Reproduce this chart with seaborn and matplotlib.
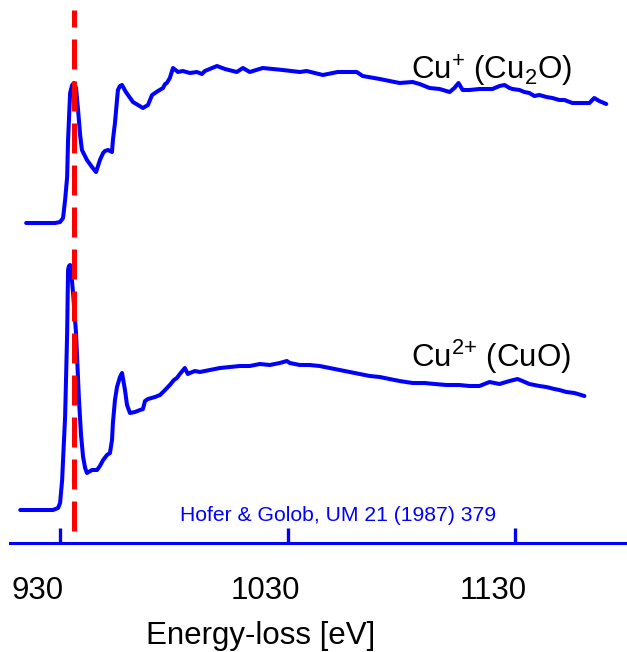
import matplotlib
matplotlib.use("Agg")
import matplotlib.pyplot as plt
import matplotlib.transforms as mtransforms
import seaborn as sns
import pandas as pd

# ---- data (energy-loss in eV, intensity in arbitrary offset units) ----
cu1_energy = [915.1, 921.2, 927.8, 930.0, 931.3, 932.2, 933.1, 933.5, 934.4, 935.3, 936.1, 937.0, 937.9,
              938.8, 939.6, 941.8, 944.0, 945.8, 947.5, 948.9, 949.7, 951.1, 952.8, 953.2, 954.1, 955.0,
              955.4, 956.3, 957.2, 958.9, 962.0, 964.2, 966.4, 968.6, 969.5, 970.4, 973.0, 975.2, 976.1,
              976.9, 978.2, 979.6, 981.8, 983.9, 987.0, 990.1, 992.3, 993.6, 998.9, 1002.4, 1007.6,
              1010.3, 1013.3, 1019.0, 1027.8, 1035.3, 1038.3, 1045.4, 1051.9, 1060.3, 1062.9, 1070.4,
              1079.1, 1084.8, 1087.9,
              1092.3, 1096.7, 1101.1, 1103.2, 1105.0, 1106.8, 1109.8, 1114.2, 1119.9, 1123.0, 1125.2,
              1127.4, 1128.7, 1131.8, 1133.9, 1136.1, 1138.3, 1140.5, 1143.6, 1146.2, 1149.3, 1151.5,
              1155.0, 1158.1, 1162.5, 1164.6, 1166.8, 1169.9]
cu1_intensity = [320, 320, 320, 321, 325, 343, 366, 403, 450, 458, 460, 455, 433,
                 408, 393, 383, 376, 371, 383, 390, 392, 393, 391, 403, 420, 443,
                 453, 457, 458, 451, 441, 438, 435, 438, 443, 448, 452, 455, 459,
                 460, 465, 475, 471, 472, 470, 471, 469, 472, 477, 474, 471,
                 475, 471, 475, 473, 471, 472, 468, 471, 471, 467, 464,
                 460, 461, 459,
                 455, 454, 451, 455, 460, 453, 453, 454, 454, 457, 458,
                 455, 454, 453, 451, 450, 447, 448, 446, 445, 443, 443,
                 440, 440, 440, 445, 442, 439]

cu2_energy = [912.5, 921.2, 926.9, 929.1, 930.0, 930.9, 931.3, 932.2, 932.6, 933.1, 933.5, 933.9, 934.4,
              934.8, 935.7, 937.0, 938.3, 939.2, 940.1, 941.0, 941.8, 944.0, 946.2, 947.5, 948.9, 950.6,
              951.9, 952.8, 953.2, 954.1, 955.0, 956.3, 957.2, 958.5, 959.4, 960.7, 962.9, 965.1, 966.4,
              967.3, 968.6, 971.7, 973.9, 976.1, 978.2, 980.0, 981.3, 982.6, 984.8, 986.1, 987.0, 989.2,
              991.4, 995.8, 1000.2, 1004.6, 1008.9, 1013.3, 1017.7, 1022.1, 1026.5, 1029.6, 1030.9,
              1035.3, 1039.6, 1044.0, 1048.4, 1052.8, 1057.2, 1061.6, 1066.0, 1070.4, 1074.7, 1079.1,
              1084.8, 1090.1, 1094.5, 1099.7, 1105.4, 1109.8, 1114.2, 1118.6, 1123.0, 1127.4, 1130.9,
              1133.1, 1136.1, 1140.5, 1143.6, 1147.1, 1149.3, 1152.4, 1155.9, 1160.3]
cu2_intensity = [33, 33, 33, 35, 40, 63, 83, 126, 163, 210, 273, 277, 278,
                 273, 250, 210, 143, 108, 86, 75, 70, 73, 73, 77, 83, 88,
                 90, 103, 120, 143, 156, 166, 170, 153, 138, 130, 131, 133, 134,
                 142, 144, 146, 148, 153, 158, 163, 165, 169, 175, 169, 170, 172,
                 171, 173, 175, 176, 177, 177, 179, 178, 180, 182, 180,
                 178, 178, 177, 175, 173, 171, 169, 167, 166, 164, 162,
                 160, 160, 159, 158, 158, 157, 157, 161, 159, 162, 164,
                 162, 159, 157, 156, 154, 153, 151, 150, 147]

edge_energy = 936.0
tick_values = [930, 1030, 1130]
tick_labels = ["930", "1030", "1130"]
series_labels = [r"Cu$^{+}$ (Cu$_{2}$O)", r"Cu$^{\text{2+}}$ (CuO)"]
label_positions = [(1084.0, 463), (1084.0, 176)]
citation = "Hofer & Golob, UM 21 (1987) 379"
x_label = "Energy-loss [eV]"

df = pd.concat([
    pd.DataFrame({"energy": cu1_energy, "intensity": cu1_intensity, "species": "Cu+"}),
    pd.DataFrame({"energy": cu2_energy, "intensity": cu2_intensity, "species": "Cu2+"}),
])

sns.set_theme(style="white")
plt.rcParams["font.family"] = ["Liberation Sans", "DejaVu Sans"]
plt.rcParams["mathtext.fontset"] = "custom"
plt.rcParams["mathtext.rm"] = "Liberation Sans"
plt.rcParams["mathtext.it"] = "Liberation Sans:italic"
plt.rcParams["mathtext.bf"] = "Liberation Sans:bold"
plt.rcParams["mathtext.default"] = "regular"

BLUE = "#0000ff"
RED = "#ff0000"
FS = 22.5

fig = plt.figure(figsize=(6.27, 6.52), dpi=100)
ax = fig.add_axes([10 / 627, 109 / 652, 617 / 627, 543 / 652])

sns.lineplot(data=df, x="energy", y="intensity", units="species", estimator=None,
             sort=False, color=BLUE, linewidth=2.9, ax=ax, legend=False)

ax.axvline(edge_energy, ymin=12 / 543, ymax=533 / 543, color=RED, linewidth=3.6,
           dashes=(6.0, 2.4), zorder=3)

ax.set_xlim(908, 1179)
ax.set_ylim(0, 543)

for lab, (lx, ly) in zip(series_labels, label_positions):
    ax.text(lx, ly, lab, fontsize=FS, color="black", ha="left", va="baseline")

ax.text(1052.0, 22, citation, fontsize=15.2, color=BLUE, ha="center", va="baseline")

for s in ["top", "right", "left"]:
    ax.spines[s].set_visible(False)
ax.spines["bottom"].set_color(BLUE)
ax.spines["bottom"].set_linewidth(2.2)

ax.set_yticks([])
ax.set_xticks(tick_values)
ax.set_xticklabels(tick_labels)
ax.tick_params(axis="x", direction="in", length=11, width=2.4, color=BLUE,
               labelsize=FS, labelcolor="black", pad=24, bottom=True)
shift = mtransforms.ScaledTranslation(-0.225, 0, fig.dpi_scale_trans)
for lbl in ax.get_xticklabels():
    lbl.set_transform(lbl.get_transform() + shift)

ax.set_xlabel(x_label, fontsize=FS, color="black")
ax.xaxis.set_label_coords(0.407, -(621 - 543) / 543)
ax.set_ylabel("")

fig.savefig("out.png", dpi=100)
